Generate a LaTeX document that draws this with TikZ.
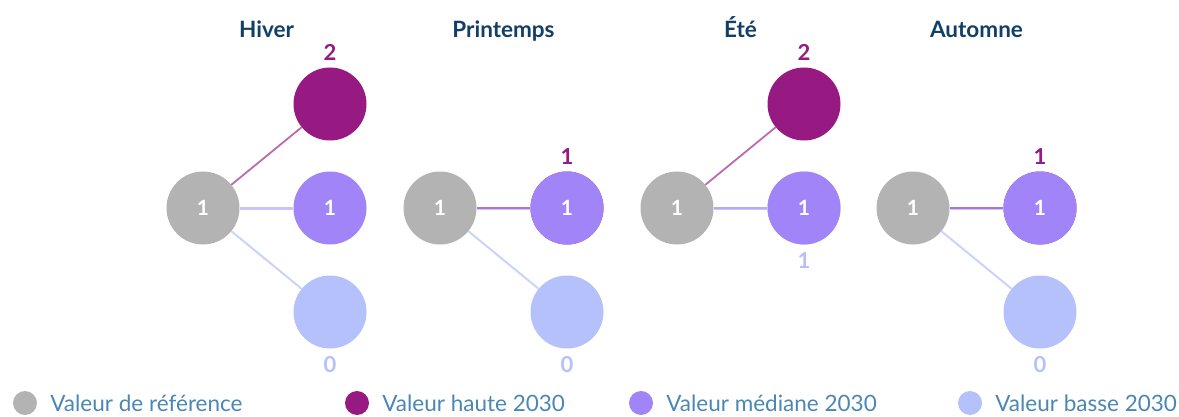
\documentclass[tikz,border=0pt]{standalone}
\usepackage{fontspec}
\setmainfont{Lato}
\usetikzlibrary{positioning}
\definecolor{refgris}{HTML}{B3B3B3}
\definecolor{haute}{HTML}{961A82}
\definecolor{mediane}{HTML}{A084F8}
\definecolor{basse}{HTML}{B4C1FA}
\definecolor{titre}{HTML}{123F66}
\definecolor{legende}{HTML}{4A87B5}
\tikzset{dot/.style={circle,minimum size=73pt,inner sep=0pt,text=white,font=\fontsize{21}{21}\selectfont\bfseries},
  val/.style={inner sep=0pt,font=\fontsize{22}{22}\selectfont\bfseries},
  saison/.style={text=titre,anchor=base,font=\fontsize{22.5}{22.5}\selectfont\bfseries},
  puce/.style={circle,minimum size=24pt,inner sep=0pt},
  legtxt/.style={text=legende,inner sep=0pt,font=\fontsize{22.5}{22.5}\selectfont},
  lhaut/.style={draw=haute,line width=1.8pt,draw opacity=.65},
  lmed/.style={draw=mediane,line width=3pt,draw opacity=.5},
  lbas/.style={draw=basse,line width=2pt,draw opacity=.7}}

\begin{document}
\begin{tikzpicture}[x=1pt,y=1pt]
\useasboundingbox (0,0) rectangle (1179,416);
\foreach \x/\s/\t/\h/\b in {203/hiv/Hiver/2/0,440/pri/Printemps/1/0,677/ete/Été/2/1,913/aut/Automne/1/0}{
  \node[saison] (\s-titre) at (\x+63.5,378) {\t};
  \node[dot,fill=refgris] (\s-ref) at (\x,208) {1};
  \node[dot,fill=haute] (\s-haut) at (\x+127,104+104*\h) {};
  \node[dot,fill=basse] (\s-bas) at (\x+127,104+104*\b) {};
  \node[dot,fill=mediane] (\s-med) at (\x+127,208) {1};
  \draw[lhaut] (\s-ref)--(\s-haut);
  \draw[lbas] (\s-ref)--(\s-bas);
  \draw[lmed] (\s-ref)--(\s-med);
  \node[val,text=haute,above=7pt of \s-haut] (\s-hv) {\h};
  \node[val,text=basse,below=8pt of \s-bas] (\s-bv) {\b};
}
% legende
\node[puce,fill=refgris] (leg-ref) at (25,13) {};
\node[legtxt,right=13pt of leg-ref] (leg-ref-t) {Valeur de référence};
\node[puce,fill=haute] (leg-haut) at (357,13) {};
\node[legtxt,right=13pt of leg-haut] (leg-haut-t) {Valeur haute 2030};
\node[puce,fill=mediane] (leg-med) at (641,13) {};
\node[legtxt,right=13pt of leg-med] (leg-med-t) {Valeur médiane 2030};
\node[puce,fill=basse] (leg-bas) at (970,13) {};
\node[legtxt,right=13pt of leg-bas] (leg-bas-t) {Valeur basse 2030};
\end{tikzpicture}
\end{document}
